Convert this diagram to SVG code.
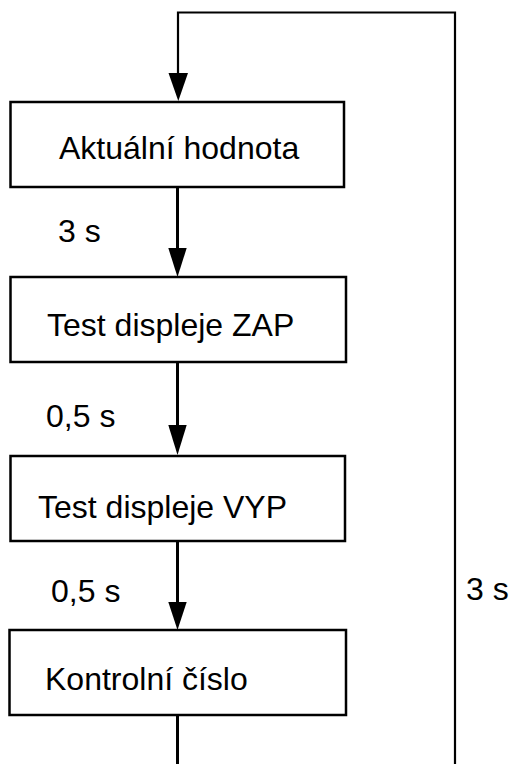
<svg xmlns="http://www.w3.org/2000/svg" width="512" height="764" viewBox="0 0 512 764">
<style>
.box{fill:#fff;stroke:#000;stroke-width:2.5}
.lbl{font-family:"Liberation Sans",Arial,sans-serif;font-size:32px;fill:#000}
.con{fill:none;stroke:#000;stroke-width:3}
.loop{fill:none;stroke:#000;stroke-width:2.2}
.head{fill:#000}
</style>
<rect width="512" height="764" fill="#fff"/>
<g id="connectors">
<polyline class="loop" points="455,764 455,12.5 178,12.5 178,74"/>
<polygon class="head" points="168.5,73 188,73 178.3,101"/>
<line class="con" x1="177.5" y1="187" x2="177.5" y2="249"/>
<polygon class="head" points="168.3,248 186.7,248 177.5,277"/>
<line class="con" x1="177.5" y1="362" x2="177.5" y2="426"/>
<polygon class="head" points="168.3,425 186.7,425 177.5,455"/>
<line class="con" x1="177.5" y1="541" x2="177.5" y2="603"/>
<polygon class="head" points="168.3,602 186.7,602 177.5,630"/>
<line class="con" x1="177.5" y1="715" x2="177.5" y2="764"/>
<text class="lbl" x="58" y="242">3 s</text>
<text class="lbl" x="46" y="427">0,5 s</text>
<text class="lbl" x="51" y="602">0,5 s</text>
<text class="lbl" x="466" y="600">3 s</text>
</g>
<g id="node1">
<rect class="box" x="10.5" y="102" width="333.5" height="85"/>
<text class="lbl" x="59" y="159">Aktuální hodnota</text>
</g>
<g id="node2">
<rect class="box" x="10.5" y="277" width="335.5" height="85"/>
<text class="lbl" x="47" y="336">Test displeje ZAP</text>
</g>
<g id="node3">
<rect class="box" x="10.5" y="456" width="334.5" height="85"/>
<text class="lbl" x="38" y="518">Test displeje VYP</text>
</g>
<g id="node4">
<rect class="box" x="9.5" y="630" width="336.5" height="85"/>
<text class="lbl" x="45" y="690">Kontrolní číslo</text>
</g>
</svg>
